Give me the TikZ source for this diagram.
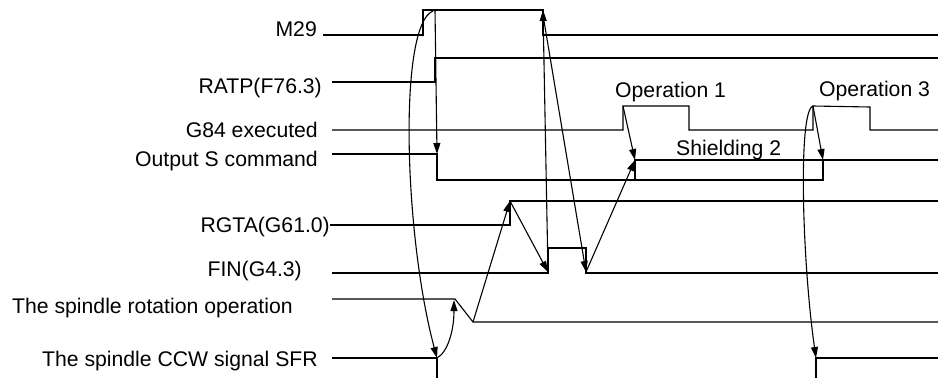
\documentclass[tikz,border=0pt]{standalone}
\usepackage{fontspec}
\setmainfont{Liberation Sans}
\usetikzlibrary{arrows.meta}
\begin{document}
\begin{tikzpicture}[x=1pt,y=-1pt,
  sig/.style={line width=1.1pt, line join=miter},
  conn/.style={line width=1.1pt, -{Triangle[length=11pt,width=7pt]}},
  lbl/.style={font=\fontsize{21.2}{25}\selectfont, inner sep=0pt, anchor=base east}]
\useasboundingbox (0,0) rectangle (938,378);
% labels
\node[lbl] (lm29) at (317,36) {M29};
\node[lbl] (lratp) at (322,93) {RATP(F76.3)};
\node[lbl] (lg84) at (318,137) {G84 executed};
\node[lbl] (lout) at (318,166) {Output S command};
\node[lbl] (lrgta) at (330,232) {RGTA(G61.0)};
\node[lbl] (lfin) at (302,276) {FIN(G4.3)};
\node[lbl,anchor=base west] (lrot) at (12,313) {The spindle rotation operation};
\node[lbl] (lsfr) at (318,366) {The spindle CCW signal SFR};
\node[lbl,anchor=base west] (op1) at (615,97) {Operation 1};
\node[lbl,anchor=base west] (op3) at (819,96) {Operation 3};
\node[lbl,anchor=base west] (sh2) at (676,155) {Shielding 2};
% signals
\draw[sig] (323,35) -- (423,35) -- (423,10) -- (543,10) -- (543,35) -- (938,35);
\draw[sig] (332,82) -- (435,82) -- (435,58) -- (938,58);
\draw[sig] (332,130) -- (623,130) -- (623,106) -- (689,106) -- (689,130) -- (813,130) -- (813,106) -- (870,107) -- (870,130) -- (938,130);
\draw[sig] (332,154) -- (437,154) -- (437,180) -- (823,180) -- (823,160);
\draw[sig] (635,180) -- (635,160) -- (938,160);
\draw[sig] (330,225) -- (510,225) -- (510,201) -- (938,201);
\draw[sig] (332,273) -- (548,273) -- (548,248) -- (586,248) -- (586,273) -- (938,273);
\draw[sig] (332,299) -- (455,299) -- (473,322) -- (938,322);
\draw[sig] (332,358) -- (437,358) -- (437,378);
\draw[sig] (816,378) -- (816,358) -- (938,358);
% connector points
\coordinate (m29top) at (435,10);
\coordinate (m29c) at (433,11);
\coordinate (outS) at (437,154);
\coordinate (sfr1) at (437,358);
\coordinate (rotup) at (454,300);
\coordinate (rotdn) at (473,322);
\coordinate (rgta) at (510,201);
\coordinate (finup) at (548,272);
\coordinate (m29fall) at (543,10);
\coordinate (m29fs) at (543,15);
\coordinate (findn) at (586,272);
\coordinate (sh1) at (635,160);
\coordinate (g1) at (623,106);
\coordinate (g2) at (813,106);
\coordinate (sh2e) at (823,160);
\coordinate (sfr2) at (816,358);
% connectors
\draw[conn] (m29top) -- (outS);
\draw[conn] (m29c) .. controls (398,25) and (404,235) .. (sfr1);
\draw[conn] (sfr1) .. controls (448,352) and (454,330) .. (rotup);
\draw[conn] (rotdn) -- (rgta);
\draw[conn] (rgta) -- (finup);
\draw[conn] (finup) -- (m29fall);
\draw[conn] (m29fs) -- (findn);
\draw[conn] (findn) -- (sh1);
\draw[conn] (g1) -- (sh1);
\draw[conn] (g2) -- (sh2e);
\draw[conn] (g2) .. controls (798,110) and (802,260) .. (sfr2);
\end{tikzpicture}
\end{document}
